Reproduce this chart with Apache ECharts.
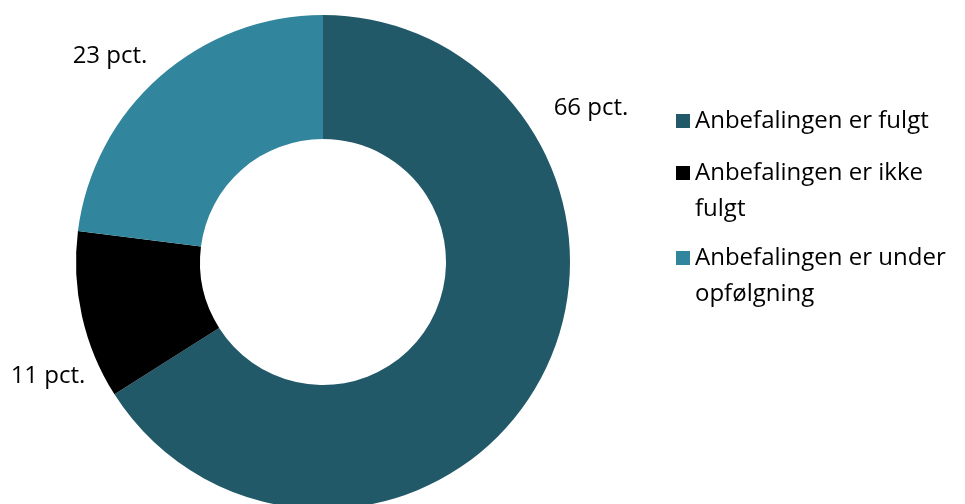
<!DOCTYPE html>
<html>
<head>
<meta charset="utf-8">
<script src="https://cdn.jsdelivr.net/npm/echarts@6/dist/echarts.min.js"></script>
<style>
  html, body { margin: 0; padding: 0; background: #fff; }
  #chart { width: 965px; height: 504px; }
</style>
</head>
<body>
<div id="chart"></div>
<script>
const categories = ["Anbefalingen er fulgt", "Anbefalingen er ikke fulgt", "Anbefalingen er under opfølgning"]
// leading empty line keeps the icon level with the first text line
const legendText = ["Anbefalingen er fulgt", "\nAnbefalingen er ikke\nfulgt", "\nAnbefalingen er under\nopfølgning"]
const values = [66, 11, 23]
const colors = ["#215968", "#000000", "#31859c"]

// where each data label sits (outside the ring, as in the original)
const labelSpots = [[591, 108], [48, 376], [110, 56]]
const legendTops = [98, 114, 199]

const font = "'Open Sans', 'Noto Sans', sans-serif"

const chart = echarts.init(document.getElementById("chart"))

const legends = categories.map((name, i) => ({
    left: 671,
    top: legendTops[i],
    orient: "vertical",
    icon: "rect",
    itemWidth: 14,
    itemHeight: 14,
    selectedMode: false,
    data: [name],
    formatter: () => legendText[i],
    textStyle: {
        fontFamily: font,
        fontSize: 24,
        color: "#000",
        lineHeight: 36
    }
}))

chart.setOption({
    animation: false,
    color: colors,
    legend: legends,
    series: [
        {
            type: "pie",
            center: [323, 262],
            radius: [123, 247],
            startAngle: 90,
            clockwise: true,
            data: categories.map((name, i) => ({ name: name, value: values[i] })),
            itemStyle: { borderWidth: 0 },
            label: {
                show: true,
                position: "outside",
                formatter: "{c} pct.",
                fontFamily: font,
                fontSize: 24,
                color: "#000",
                overflow: "none",
                width: 200
            },
            labelLine: { show: false },
            labelLayout: function (params) {
                const p = labelSpots[params.dataIndex]
                return { x: p[0], y: p[1], align: "center", verticalAlign: "middle" }
            },
            emphasis: { disabled: true }
        }
    ]
})
</script>
</body>
</html>
